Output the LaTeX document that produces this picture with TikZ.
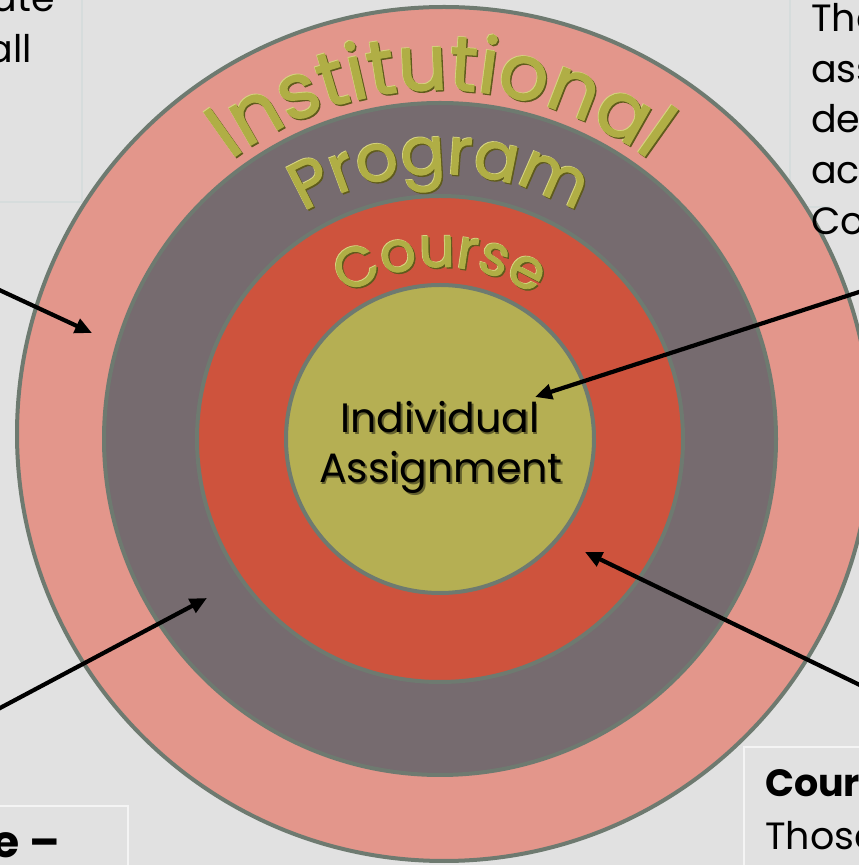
\documentclass[tikz,border=0pt]{standalone}
\usepackage{fontspec}
\setmainfont{Poppins}
\newfontfamily\goldfont{Poppins}[FakeBold=1.6]
\usetikzlibrary{decorations.text, arrows.meta}
\definecolor{bgcol}{HTML}{E1E1E1}
\definecolor{outercol}{HTML}{E3968B}
\definecolor{progcol}{HTML}{766B6F}
\definecolor{coursecol}{HTML}{CE533D}
\definecolor{innercol}{HTML}{B5AF53}
\definecolor{rimcol}{HTML}{6E7A70}
\definecolor{goldcol}{HTML}{B0AE45}
\definecolor{golddark}{HTML}{5F5B1C}
\definecolor{goldlight}{HTML}{D6D480}
\definecolor{boxtop}{HTML}{D6DCDC}
\definecolor{boxbot}{HTML}{F4F4F4}
\tikzset{
  ring/.style={draw=rimcol, line width=4pt},
  sidetext/.style={inner sep=0pt, font=\fontsize{38}{46}\selectfont, text=black},
  sidebold/.style={sidetext, font=\fontsize{38}{46}\selectfont\bfseries},
  innertext/.style={inner sep=0pt, font=\fontsize{41}{48}\selectfont, text=black},
  pointer/.style={draw=black, line width=4.2pt, -{Triangle[length=17pt,width=15pt]}},
  boxline/.style={line width=1.5pt}
}
\begin{document}
\begin{tikzpicture}[x=1pt,y=1pt]
\useasboundingbox (0,0) rectangle (859,865);
\fill[bgcol] (0,0) rectangle (859,865);

% side boxes (partly outside the picture)
\draw[boxline, draw=boxtop] (-5,663) -- (82,663) -- (82,870);
\draw[boxline, draw=boxtop] (790,870) -- (790,658) -- (830,658);
\draw[boxline, draw=boxbot] (-5,59) -- (128,59) -- (128,-5);
\draw[boxline, draw=boxbot] (744,-5) -- (744,118) -- (870,118);

% concentric rings
\node[ring, circle, fill=outercol, minimum size=854pt, inner sep=0pt] (inst) at (444,431) {};
\node[ring, circle, fill=progcol, minimum size=672pt, inner sep=0pt] (prog) at (440,426) {};
\node[ring, circle, fill=coursecol, minimum size=486pt, inner sep=0pt] (crs) at (440,426) {};
\node[ring, circle, fill=innercol, minimum size=308pt, inner sep=0pt] (indiv) at (440,426) {};

% curved titles (highlight + shadow + gold)
\coordinate (cc) at (440,426);
\foreach \dx/\dy/\col in {-0.8/0.8/goldlight, 1.4/-1.4/golddark, 0/0/goldcol}{
  \path[decorate, decoration={text along path, text align=center, text color=\col,
      text={|\goldfont\fontsize{77}{79}\selectfont|Institutional}}]
    ([shift={(\dx,\dy)}]cc) ++(170:349) arc[start angle=170, end angle=10, radius=349];
  \path[decorate, decoration={text along path, text align=center, text color=\col,
      text={|\goldfont\fontsize{66}{68}\selectfont|Program}}]
    ([shift={(\dx,\dy)}]cc) ++(170:265) arc[start angle=170, end angle=10, radius=265];
  \path[decorate, decoration={text along path, text align=center, text color=\col,
      text={|\goldfont\fontsize{56}{58}\selectfont|Course}}]
    ([shift={(\dx,\dy)}]cc) ++(170:172) arc[start angle=170, end angle=10, radius=172];
}

% centre text
\node[innertext, text=black!45!innercol, anchor=base] at (441.5,430.5) {Individual};
\node[innertext, text=black!45!innercol, anchor=base] at (442.5,380.5) {Assignment};
\node[innertext, anchor=base] (t1) at (440,432) {Individual};
\node[innertext, anchor=base] (t2) at (441,382) {Assignment};

% side texts
\node[sidetext, anchor=base east] (tla) at (55,853) {ate};
\node[sidetext, anchor=base east] (tlb) at (32,802) {all};
\node[sidetext, anchor=base west] (tra) at (811,833) {The};
\node[sidetext, anchor=base west] (trb) at (811,782) {ass};
\node[sidetext, anchor=base west] (trc) at (811,732) {de};
\node[sidetext, anchor=base west] (trd) at (811,681) {ac};
\node[sidetext, anchor=base west] (tre) at (811,630) {Co};
\node[sidebold, anchor=base east, font=\fontsize{44}{50}\selectfont\bfseries] (bla) at (60,7) {e –};
\node[sidebold, anchor=base west] (bra) at (765,68) {Cour};
\node[sidetext, anchor=base west] (brb) at (765,15) {Those};

% pointers
\coordinate (a1s) at (-5,577);
\coordinate (a1e) at (92,532);
\coordinate (a2s) at (864,574.6);
\coordinate (a2e) at (535,468);
\coordinate (a3s) at (-5,154.3);
\coordinate (a3e) at (207,267);
\coordinate (a4s) at (864,178);
\coordinate (a4e) at (585,313);
\draw[pointer] (a1s) -- (a1e);
\draw[pointer] (a2s) -- (a2e);
\draw[pointer] (a3s) -- (a3e);
\draw[pointer] (a4s) -- (a4e);
\end{tikzpicture}
\end{document}
